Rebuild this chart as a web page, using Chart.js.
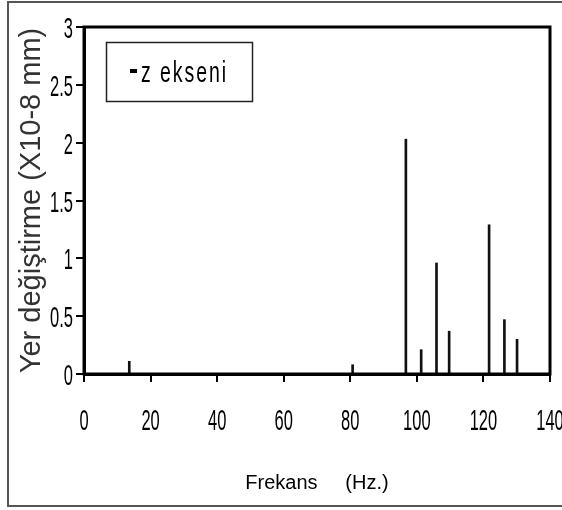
<!DOCTYPE html>
<html>
<head>
<meta charset="utf-8">
<script src="https://cdn.jsdelivr.net/npm/chart.js@4/dist/chart.umd.min.js"></script>
<style>
  html, body { margin: 0; padding: 0; background: #fff; }
  canvas { display: block; }
</style>
</head>
<body>
<canvas id="chart" width="562" height="510"></canvas>
<script>
// frekans (Hz) ve yer değiştirme değerleri
const frekanslar = [13.6, 80.7, 96.7, 101.3, 105.9, 109.7, 121.7, 126.3, 130.1];
const zEkseni = [0.11, 0.08, 2.03, 0.21, 0.96, 0.37, 1.29, 0.47, 0.30];
const seriAdi = 'z ekseni';
const xBaslik = 'Frekans     (Hz.)';
const yBaslik = 'Yer değiştirme (X10-8 mm)';

const sans = "'Liberation Sans', Arial, sans-serif";
const DAR = 0.55; // etiketler için yatay sıkıştırma (dar yazı tipi yok)

// sıkıştırılmış yazı
function darYaz(ctx, text, x, y, align, sx) {
  ctx.save();
  ctx.translate(x, y);
  ctx.scale(sx, 1);
  ctx.textAlign = align;
  ctx.fillText(text, 0, 0);
  ctx.restore();
}

// dış çerçeve, çizim alanı çerçevesi, eksen etiketleri ve lejant kutusu
const cerceve = {
  id: 'cerceve',
  beforeDraw(chart) {
    const ctx = chart.ctx;
    ctx.save();
    ctx.fillStyle = '#fff';
    ctx.fillRect(0, 0, chart.width, chart.height);
    ctx.strokeStyle = '#555';
    ctx.lineWidth = 2;
    ctx.strokeRect(8, 2, 600, 504);
    ctx.restore();
  },
  afterDraw(chart) {
    const { ctx, chartArea: a, scales } = chart;
    ctx.save();
    ctx.strokeStyle = '#000';
    ctx.lineWidth = 3;
    ctx.strokeRect(a.left, a.top, a.right - a.left, a.bottom - a.top);

    // eksen etiketleri, ölçeklerin kendi tik konumlarından
    ctx.fillStyle = '#000';
    ctx.font = '30px ' + sans;
    ctx.textBaseline = 'alphabetic';
    scales.y.ticks.forEach(t => {
      const py = scales.y.getPixelForValue(t.value);
      darYaz(ctx, String(t.label ?? t.value), scales.y.left + 61, py + 11, 'right', DAR);
    });
    scales.x.ticks.forEach(t => {
      const px = scales.x.getPixelForValue(t.value);
      darYaz(ctx, String(t.label ?? t.value), px, 430, 'center', DAR);
    });

    // lejant
    ctx.lineWidth = 1.5;
    ctx.strokeStyle = '#222';
    ctx.strokeRect(106.5, 42.5, 146, 59);
    ctx.fillStyle = '#000';
    ctx.fillRect(130, 69, 7, 4);
    ctx.font = '30px ' + sans;
    ctx.letterSpacing = '3px';
    darYaz(ctx, seriAdi, 141, 82, 'left', 0.65);
    ctx.restore();
  }
};

new Chart(document.getElementById('chart'), {
  type: 'bar',
  data: {
    datasets: [{
      label: seriAdi,
      data: frekanslar.map((f, i) => ({ x: f, y: zEkseni[i] })),
      backgroundColor: '#111',
      borderWidth: 0,
      barThickness: 2
    }]
  },
  options: {
    responsive: false,
    animation: false,
    layout: { padding: { left: 12, top: 27, right: 12, bottom: 10 } },
    plugins: {
      legend: { display: false },
      tooltip: { enabled: false }
    },
    scales: {
      x: {
        type: 'linear',
        min: 0,
        max: 140,
        offset: false,
        ticks: { stepSize: 20, display: false, callback: v => String(v) },
        grid: { drawOnChartArea: false, drawTicks: true, tickLength: 8, color: '#000', lineWidth: 2, offset: false },
        border: { display: true, color: '#000', width: 3 },
        title: { display: true, text: xBaslik, color: '#000', font: { family: sans, size: 20 }, padding: { top: 0, bottom: 5 } },
        afterFit(scale) {
          scale.height = 126;
          scale.paddingLeft = 0;
          scale.paddingRight = 0;
        }
      },
      y: {
        min: 0,
        max: 3,
        ticks: { stepSize: 0.5, display: false, callback: v => String(v) },
        grid: { drawOnChartArea: false, drawTicks: true, tickLength: 8, color: '#000', lineWidth: 2 },
        border: { display: true, color: '#000', width: 3 },
        title: { display: true, text: yBaslik, color: '#333', font: { family: sans, size: 29 }, padding: { top: 3, bottom: 0 } },
        afterFit(scale) {
          scale.width = 72;
          scale.paddingTop = 0;
          scale.paddingBottom = 0;
        }
      }
    }
  },
  plugins: [cerceve]
});
</script>
</body>
</html>
